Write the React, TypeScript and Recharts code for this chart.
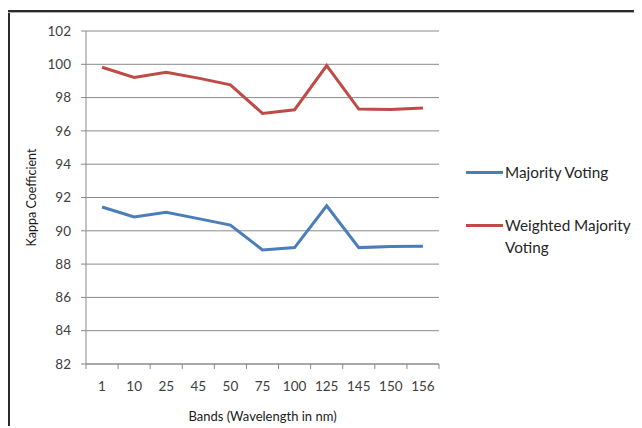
import React from "react";
import { LineChart, Line, XAxis, YAxis, CartesianGrid, Label } from "recharts";

// Spectral bands (wavelength in nm) and kappa coefficients per fusion method
const bands = ["1", "10", "25", "45", "50", "75", "100", "125", "145", "150", "156"];
const majorityVoting = [91.43, 90.83, 91.11, 90.73, 90.34, 88.85, 88.99, 91.5, 88.99, 89.05, 89.07];
const weightedMajorityVoting = [99.82, 99.21, 99.52, 99.17, 98.77, 97.05, 97.27, 99.92, 97.31, 97.29, 97.37];
const yTicks = [82, 84, 86, 88, 90, 92, 94, 96, 98, 100, 102];

const data = bands.map((b, i) => ({
  band: b,
  mv: majorityVoting[i],
  wmv: weightedMajorityVoting[i],
}));

const FONT = "Lato, 'Open Sans', sans-serif";
const TEXT = "#404040";
const AXIS = "#8a8a8a";
const BLUE = "#4a7ebb";
const RED = "#be4b48";

const W = 633;
const H = 418;
const M = { top: 23, right: 202, left: 0, bottom: 0 };
const Y_AXIS_W = 78;
const X_AXIS_H = 62;
const PLOT_W = W - M.left - M.right - Y_AXIS_W;
const HALF_BAND = PLOT_W / bands.length / 2;

// Category tick: label at the band centre, tick marks on the band boundaries
const BandTick = (props: any) => {
  const { x, y, payload, index } = props;
  const last = index === bands.length - 1;
  return (
    <g>
      <line x1={x - HALF_BAND} y1={y} x2={x - HALF_BAND} y2={y + 5} stroke={AXIS} />
      {last && <line x1={x + HALF_BAND} y1={y} x2={x + HALF_BAND} y2={y + 5} stroke={AXIS} />}
      <text x={x} y={y + 22} textAnchor="middle" dominantBaseline="central" fill={TEXT} fontSize={13.5} fontFamily={FONT}>
        {payload.value}
      </text>
    </g>
  );
};

const legendRow: React.CSSProperties = { position: "absolute", left: 458, display: "flex", alignItems: "flex-start" };
const legendLine = (color: string): React.CSSProperties => ({
  display: "inline-block",
  width: 37,
  height: 3,
  background: color,
  marginRight: 2,
  marginTop: 10,
});

export default function App() {
  return (
    <div style={{ position: "relative", width: W, height: H, overflow: "hidden" }}>
      <div style={{ position: "absolute", left: 0, top: 2, width: 2, height: H - 2, background: "#2b2b2b" }} />
      <div style={{ position: "absolute", left: 0, top: 2, width: W, height: 2, background: "#2b2b2b" }} />
      <div style={{ position: "absolute", left: 0, top: 4, width: W, height: 1, background: "#b0b0b0" }} />
      <LineChart width={W} height={H} data={data} margin={M}>
        <CartesianGrid horizontal vertical={false} stroke={AXIS} strokeWidth={1} />
        <XAxis
          dataKey="band"
          scale="band"
          stroke={AXIS}
          tickLine={false}
          tickSize={0}
          tickMargin={0}
          tick={<BandTick />}
          interval={0}
          height={X_AXIS_H}
        >
          <Label value="Bands (Wavelength in nm)" position="insideBottom" offset={5} fill="#1a1a1a" fontSize={13} fontFamily={FONT} />
        </XAxis>
        <YAxis
          width={Y_AXIS_W}
          domain={[82, 102]}
          ticks={yTicks}
          interval={0}
          stroke={AXIS}
          tickSize={5}
          tickMargin={10}
          tick={{ fill: TEXT, fontSize: 13.5, fontFamily: FONT }}
        >
          <Label value="Kappa Coefficient" angle={-90} position="insideLeft" offset={24} fill="#1a1a1a" fontSize={12.5} fontFamily={FONT} style={{ textAnchor: "middle" }} />
        </YAxis>
        <Line type="linear" dataKey="mv" name="Majority Voting" stroke={BLUE} strokeWidth={3} dot={false} isAnimationActive={false} />
        <Line type="linear" dataKey="wmv" name="Weighted Majority Voting" stroke={RED} strokeWidth={3} dot={false} isAnimationActive={false} />
      </LineChart>
      <div style={{ fontFamily: FONT, fontSize: 15.3, color: "#262626", lineHeight: "22px", whiteSpace: "nowrap" }}>
        <div style={{ ...legendRow, top: 153 }}>
          <span style={legendLine(BLUE)} />
          <span>Majority Voting</span>
        </div>
        <div style={{ ...legendRow, top: 206 }}>
          <span style={legendLine(RED)} />
          <span>
            Weighted Majority
            <br />
            Voting
          </span>
        </div>
      </div>
    </div>
  );
}
